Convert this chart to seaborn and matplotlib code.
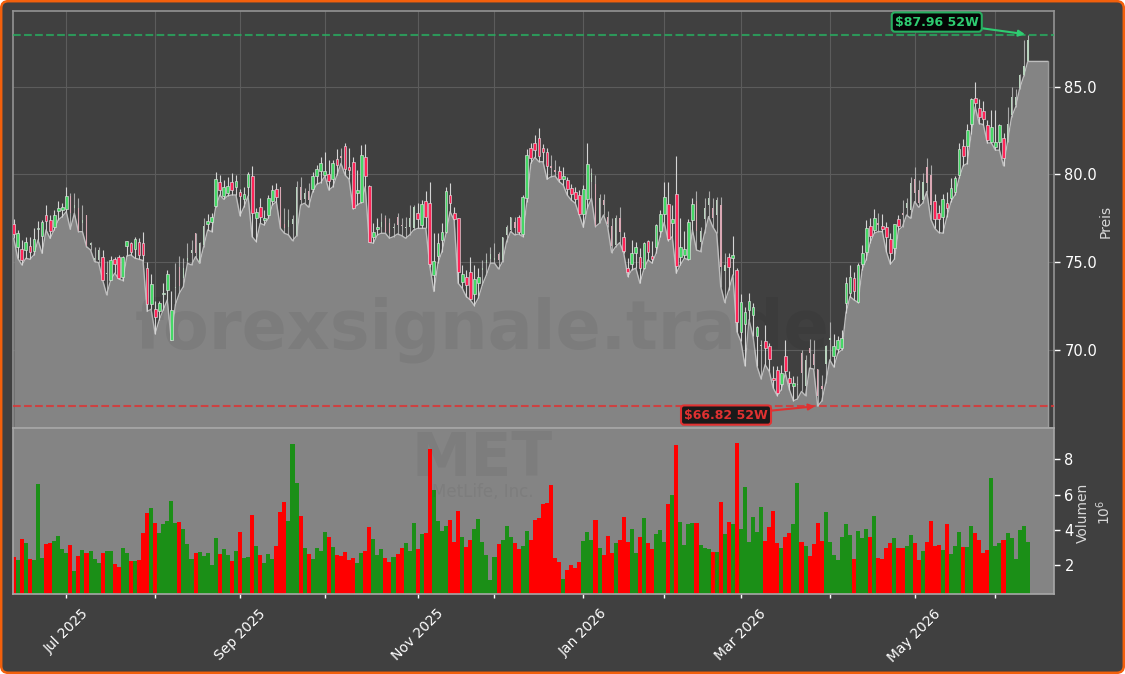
# MET candlestick chart with volume panel
import pandas as pd
import numpy as np
import matplotlib
matplotlib.use('Agg')
import matplotlib.pyplot as plt
from matplotlib.patches import FancyBboxPatch
from matplotlib.transforms import IdentityTransform
import seaborn as sns

holidays = ['2025-06-19', '2025-07-04', '2025-09-01', '2025-11-27', '2025-12-25',
            '2026-01-01', '2026-01-19', '2026-02-16', '2026-04-03', '2026-05-25']

opens = [
    77.16,75.85,75.74,75.70,75.91,75.66,76.88,76.50,77.67,77.41,
    77.03,77.94,77.97,78.05,78.77,78.11,78.07,77.22,77.67,75.99,
    75.13,75.13,75.30,74.32,74.02,75.17,75.30,74.19,75.91,76.08,
    75.74,76.16,76.08,74.66,72.63,72.35,72.25,73.22,73.43,70.57,
    73.52,74.76,74.09,75.10,75.55,76.65,75.04,75.99,77.20,77.27,
    78.22,79.55,78.79,78.92,79.55,79.30,78.98,78.58,79.26,79.89,
    77.50,78.16,77.41,77.69,78.51,79.15,79.30,77.18,77.03,77.18,
    76.56,79.30,78.58,79.08,79.15,79.93,80.21,79.98,80.00,79.72,
    80.86,81.04,81.61,80.44,80.68,78.96,78.45,80.97,79.34,76.42,
    76.92,77.03,77.50,77.22,76.93,77.60,77.10,76.93,77.03,76.93,
    77.79,77.12,78.47,78.36,74.30,75.38,76.27,76.71,78.81,77.79,
    77.50,73.85,74.19,74.43,73.17,73.81,74.57,74.95,75.17,75.14,
    75.46,75.14,76.56,76.84,77.31,77.56,76.61,78.64,81.48,81.76,
    82.05,81.48,81.27,80.48,80.25,80.17,79.76,79.70,79.21,78.98,
    78.81,77.77,78.62,79.57,79.45,77.26,78.54,77.56,77.07,75.99,
    77.50,76.44,74.66,74.89,75.51,75.29,74.66,76.20,75.36,75.89,
    76.78,77.73,78.30,77.22,78.90,75.29,75.40,75.19,77.39,78.49,
    76.18,77.47,78.26,78.07,77.69,78.24,74.53,75.29,75.23,74.55,
    71.06,71.48,72.26,71.99,70.78,70.21,70.51,70.21,68.41,68.85,
    68.09,69.64,68.41,67.96,68.00,69.83,67.94,70.12,69.78,68.92,
    67.94,69.23,70.59,69.68,70.06,70.12,72.67,73.24,74.08,72.73,
    74.91,75.57,77.09,76.84,77.24,77.05,76.99,76.31,75.80,77.45,
    77.79,78.07,77.98,79.72,79.11,78.54,80.44,79.97,78.47,77.79,
    77.56,78.39,78.64,79.02,79.96,81.60,81.62,82.89,84.37,83.80,
    83.61,82.84,81.85,81.57,81.85,82.10,81.85,83.37,83.93,84.94,85.64,86.43]

closes = [
    76.63,76.69,75.13,76.14,75.59,76.31,76.93,77.31,77.37,76.80,
    77.69,78.07,78.13,78.77,77.79,78.26,76.78,77.41,75.95,76.08,
    75.23,75.70,74.02,74.38,75.13,74.91,74.13,75.30,76.19,75.57,
    76.31,75.44,75.44,72.63,73.77,71.86,72.67,73.28,74.32,72.27,
    73.62,73.66,74.66,75.23,75.70,75.51,76.08,77.07,77.33,77.56,
    79.72,79.09,79.26,79.36,79.11,79.60,78.79,78.86,80.02,77.79,
    77.88,77.60,77.54,78.66,79.11,78.73,77.03,76.93,77.41,77.47,
    79.30,78.54,78.92,78.54,79.91,80.29,80.63,80.17,79.60,80.63,
    80.55,80.95,80.29,80.25,78.07,79.11,81.08,79.89,76.18,76.75,
    77.03,77.31,76.75,76.65,76.99,77.12,77.07,76.99,77.50,78.13,
    77.48,78.32,77.56,74.91,75.06,76.08,76.73,79.04,78.36,77.48,
    74.42,74.32,73.68,72.90,74.04,74.15,74.70,75.14,75.48,75.23,
    75.14,76.46,76.99,77.56,76.93,76.71,78.70,81.10,80.95,81.39,
    81.06,81.29,80.50,80.38,80.12,79.72,79.91,79.15,78.89,78.62,
    77.75,79.15,80.59,80.06,77.07,78.64,78.26,77.18,75.93,77.54,
    76.71,75.67,74.47,75.51,75.86,74.70,76.08,75.61,75.17,77.10,
    77.73,78.70,76.31,77.45,74.79,75.86,75.74,77.31,78.30,76.80,
    76.78,78.07,78.64,77.54,78.54,74.72,74.85,74.76,75.40,71.59,
    72.73,72.16,72.79,72.45,71.31,70.29,70.12,69.49,68.30,67.56,
    68.70,68.79,68.13,68.13,68.05,68.70,69.45,69.83,69.17,67.37,
    67.79,70.21,70.68,70.21,70.59,70.68,73.81,74.15,73.34,74.83,
    75.51,76.93,76.52,77.50,77.14,76.92,76.42,75.51,77.16,77.09,
    77.69,78.36,79.49,78.92,78.36,79.59,79.49,78.26,77.48,77.45,
    78.62,78.11,79.21,79.77,81.43,81.06,82.51,84.31,84.07,83.27,
    83.16,81.95,82.70,81.85,82.84,80.96,82.89,84.41,84.41,85.64,86.15,87.63]

highs = [
    77.44,76.84,76.27,76.42,76.46,76.97,77.35,77.40,78.24,77.69,
    77.97,78.50,78.35,79.30,78.92,78.92,78.64,78.26,77.69,76.18,
    75.85,75.85,75.70,75.08,75.36,75.32,75.40,75.36,76.21,76.18,
    76.42,76.36,76.71,75.04,74.32,72.82,72.82,73.81,74.57,73.37,
    74.98,75.36,75.23,76.08,76.27,76.65,76.14,77.50,77.73,77.79,
    80.15,79.96,79.68,79.83,80.06,79.96,79.15,79.26,80.15,80.49,
    78.11,78.64,77.97,78.83,79.40,79.49,79.30,78.07,78.01,77.69,
    79.62,79.87,79.21,79.49,80.15,80.53,80.97,81.29,80.82,80.82,
    81.42,81.48,81.80,81.48,81.01,80.25,81.67,81.71,79.40,77.22,
    77.50,77.79,77.69,77.50,77.22,77.82,77.50,77.60,78.26,78.26,
    78.36,78.54,79.08,79.59,76.65,76.65,77.22,79.30,79.49,78.17,
    77.54,74.85,74.57,75.29,74.85,74.66,75.14,75.55,75.89,76.08,
    75.61,76.46,77.12,77.60,77.60,77.69,78.83,81.42,81.80,82.24,
    82.62,81.73,81.48,81.10,80.82,80.48,80.40,79.83,79.45,79.30,
    79.11,79.40,81.80,80.34,79.97,78.89,78.89,77.94,77.50,77.69,
    78.17,76.75,75.23,76.27,76.18,75.80,76.18,76.27,76.23,77.18,
    77.98,79.59,79.59,78.26,81.06,77.50,76.80,77.47,78.64,79.06,
    76.99,78.64,79.08,78.64,78.73,78.70,75.55,75.51,76.52,74.66,
    73.20,72.48,73.28,72.71,71.39,70.59,71.44,70.40,69.11,69.07,
    69.17,70.59,68.79,68.51,68.51,70.02,69.74,70.63,70.59,68.92,
    68.60,70.31,71.63,70.93,70.78,71.12,74.19,74.83,74.47,74.95,
    75.99,77.41,77.50,78.01,77.82,77.75,77.31,76.65,77.18,77.69,
    78.54,78.68,79.83,80.44,79.68,80.10,80.95,80.53,78.89,78.26,
    78.89,79.02,79.77,79.91,81.76,82.04,82.85,84.37,85.26,84.28,
    84.18,83.08,83.65,83.69,82.85,82.36,83.84,84.98,84.88,85.70,87.67,87.96]

lows = [
    76.36,75.23,74.85,75.23,75.17,75.42,76.27,75.51,76.84,76.36,
    76.84,77.41,77.60,77.88,76.88,77.79,76.74,76.74,75.89,75.70,
    75.04,74.98,74.00,73.15,74.00,74.38,74.05,73.96,75.36,75.42,
    75.23,75.17,75.10,72.20,72.33,70.93,71.72,72.29,72.86,70.55,
    72.58,73.24,73.62,74.94,74.85,75.32,74.94,75.89,76.84,76.74,
    78.16,78.83,78.58,78.79,78.83,78.83,77.65,78.16,78.77,76.46,
    76.18,77.22,77.12,77.50,78.26,78.45,76.93,76.65,76.56,76.23,
    76.50,78.26,78.36,78.13,79.02,79.45,79.53,79.91,79.11,79.30,
    79.97,80.63,79.97,79.72,78.03,78.26,78.39,79.30,76.14,76.08,
    76.56,76.65,76.65,76.37,76.46,76.61,76.52,76.37,76.56,76.84,
    76.93,76.93,76.93,74.76,73.34,74.95,75.61,76.65,77.88,77.41,
    73.81,73.53,73.05,72.86,72.54,72.96,73.72,74.28,74.95,74.95,
    74.62,75.04,76.18,76.75,76.56,76.61,76.46,78.45,80.63,80.97,
    80.72,80.72,79.72,79.87,79.91,79.59,79.40,78.83,78.54,78.36,
    77.69,76.99,78.07,78.64,77.03,77.22,77.69,77.03,75.55,75.89,
    76.12,75.51,74.19,74.57,74.66,73.81,74.62,75.14,74.95,75.51,
    76.46,77.26,76.23,76.46,74.38,74.85,75.23,75.14,76.84,75.70,
    75.61,76.65,77.60,77.03,76.65,73.62,72.71,73.43,74.28,71.06,
    70.50,69.11,71.73,70.78,69.07,68.36,69.17,68.79,67.84,67.41,
    67.75,68.70,67.75,67.12,67.22,67.65,67.41,68.98,68.92,66.82,
    67.09,68.13,69.45,69.04,69.83,70.02,72.11,73.05,72.86,72.71,
    74.57,75.14,76.12,76.65,76.75,76.75,75.61,74.89,75.17,76.84,
    77.03,77.69,77.50,78.45,78.13,78.36,79.02,77.45,76.93,76.69,
    76.65,77.60,78.45,78.83,79.77,80.49,80.62,82.32,83.84,82.89,
    82.84,81.79,81.79,81.38,81.38,80.49,81.85,83.27,83.84,84.88,85.58,86.43]

volumes = [
    2.45,2.30,3.49,3.25,2.34,2.30,6.60,2.40,3.20,3.25,
    3.38,3.66,2.90,2.68,3.15,1.68,2.53,2.87,2.68,2.80,
    2.36,2.11,2.68,2.80,2.80,2.07,1.90,2.98,2.68,2.25,
    2.25,2.30,3.83,4.96,5.25,4.40,3.83,4.34,4.50,5.64,
    4.40,4.45,4.06,3.20,2.36,2.70,2.75,2.53,2.70,2.02,
    3.55,2.64,2.92,2.58,2.25,2.80,3.89,2.42,2.47,4.85,
    3.09,2.58,2.13,2.64,2.36,3.09,5.00,5.58,4.50,8.87,
    6.66,4.79,2.98,2.64,2.36,2.98,2.81,3.89,3.60,3.04,
    2.58,2.53,2.75,2.30,2.42,2.13,2.70,2.81,4.17,3.49,
    2.58,2.92,2.42,2.19,2.47,2.64,2.98,3.26,2.81,4.40,
    2.92,3.77,3.83,8.58,6.26,4.50,3.94,4.23,4.57,3.32,
    5.08,3.60,3.04,3.43,4.06,4.62,3.32,2.58,1.17,2.47,
    3.20,3.43,4.23,3.60,3.26,2.92,3.09,3.94,3.43,4.57,
    4.68,5.47,5.53,6.55,2.42,2.19,1.23,1.74,2.02,1.85,
    2.19,3.38,3.89,3.43,4.57,2.98,2.58,3.66,2.70,3.26,
    3.43,4.74,3.32,4.06,2.70,3.60,4.68,3.26,2.92,3.77,
    4.00,3.32,5.47,5.98,8.81,4.45,3.15,4.34,4.40,4.40,
    3.15,2.98,2.92,2.75,2.75,5.58,3.77,4.45,4.34,8.92,
    4.06,6.43,3.32,4.74,3.89,5.30,3.38,4.17,5.08,3.26,
    2.98,3.60,3.83,4.34,6.66,3.32,3.09,2.53,3.20,4.40,
    3.38,5.02,3.32,2.58,2.30,3.60,4.34,3.72,2.36,3.94,
    3.55,4.06,3.60,4.79,2.42,2.36,2.98,3.26,3.55,2.98,
    2.98,3.09,3.72,3.26,2.30,2.81,3.32,4.50,3.09,3.15,
    2.87,4.34,2.64,3.09,3.89,3.04,3.04,4.23,3.83,3.43,
    2.70,2.87,6.94,3.09,3.26,3.43,3.83,3.55,2.36,4.00,4.23,3.32]

# candles that look washed out in the original
faded_days = (list(range(14, 22)) + [23] + list(range(40, 48)) + list(range(66, 74)) + [81]
              + list(range(91, 100)) + list(range(116, 125)) + [133, 134] + list(range(143, 151))
              + list(range(169, 177)) + [185] + list(range(194, 203)) + [214]
              + list(range(220, 228)) + list(range(246, 252)))

year_high = 87.96
year_low = 66.82

BG = '#404040'
PANEL = '#848484'
UP_BODY = '#45d866'
DOWN_BODY = '#ff2458'
GREEN_LINE = '#27ae60'
RED_LINE = '#e03131'

sns.set_theme(style='dark', rc={'axes.facecolor': BG, 'figure.facecolor': 'white',
                                'text.color': 'white', 'font.family': 'DejaVu Sans'})

dates = pd.bdate_range('2025-06-11', periods=len(closes), freq='C', holidays=holidays)
df = pd.DataFrame({'day': np.arange(len(closes)), 'date': dates, 'open': opens, 'close': closes,
                   'high': highs, 'low': lows, 'volume': volumes})
df['side'] = np.where(df['close'] >= df['open'], 'up', 'down')
df['faded'] = df['day'].isin(faded_days)

fig = plt.figure(figsize=(11.25, 6.74), dpi=100)
fig.patches.append(FancyBboxPatch((1.2, 1.2), 1122.6, 671.6, boxstyle='round,pad=0,rounding_size=7',
                                  transform=IdentityTransform(), figure=fig,
                                  fc=BG, ec='#f2600c', lw=1.8, zorder=-5))

W, H = 1125, 674
ax = fig.add_axes([13 / W, 1 - 428 / H, 1041 / W, 417 / H])
ax_vol = fig.add_axes([13 / W, 1 - 594 / H, 1041 / W, 166 / H], sharex=ax)
for a in (ax, ax_vol):
    a.patch.set_alpha(0)
    a.yaxis.tick_right()
    a.yaxis.set_label_position('right')

floor = 65.57
x_end = 256.0

# month ticks
first_days = df.groupby(df['date'].dt.to_period('M'))['day'].min().iloc[1:]
month_names = [d.strftime('%b %Y') for d in df.loc[first_days.values, 'date']]
tick_labels = [n if i % 2 == 0 else '' for i, n in enumerate(month_names)]

# area under the lows
area_x = list(df['day']) + [x_end]
area_y = list(df['low']) + [lows[-1]]
ax.set_axisbelow(True)
ax.fill_between(area_x, area_y, floor, color=PANEL, lw=0, zorder=2)
sns.lineplot(x=area_x, y=area_y, color='#bdbdbd', lw=1, ax=ax, errorbar=None, zorder=3)
ax.plot([x_end, x_end], [lows[-1], floor], color='#9c9c9c', lw=1, zorder=3)

ax.text(0.451, 0.235, 'forexsignale.trade', transform=ax.transAxes, fontsize=48, fontweight='bold',
        color='black', alpha=0.06, ha='center', va='center', zorder=4)

# candles
normal = df[~df['faded']]
faded = df[df['faded']]
ax.vlines(faded['day'], faded['low'], faded['high'], color='#c4c4c4', lw=0.8, alpha=0.8, zorder=5)
ax.vlines(normal['day'], normal['low'], normal['high'], color='#d4d4d4', lw=0.8, zorder=5)
for part, width, edge, lw, up_col, down_col in [(faded, 0.4, 'none', 0, '#b9d4be', '#dba8b4'),
                                               (normal, 0.7, '#e2e2e2', 0.45, UP_BODY, DOWN_BODY)]:
    colors = np.where(part['side'] == 'up', up_col, down_col)
    ax.bar(part['day'], (part['close'] - part['open']).abs().clip(lower=0.06),
           bottom=part[['open', 'close']].min(axis=1), width=width, color=colors,
           edgecolor=edge, linewidth=lw, zorder=6)

# 52 week lines
ax.axhline(year_high, color=GREEN_LINE, ls='--', lw=1.5, alpha=0.8, zorder=4)
ax.axhline(year_low, color=RED_LINE, ls='--', lw=1.5, alpha=0.8, zorder=4)
ax.annotate(f'${year_high:.2f} 52W', xy=(df['high'].idxmax(), year_high), xytext=(-65.5, 9.0),
            textcoords='offset points', ha='center', va='center', fontsize=9, fontweight='bold',
            color='#2ecc71', zorder=9,
            bbox=dict(boxstyle='round,pad=0.25', fc='#050505', ec=GREEN_LINE, lw=1.5),
            arrowprops=dict(arrowstyle='-|>', color='#2ecc71', lw=1.5, shrinkA=0, shrinkB=2))
ax.annotate(f'${year_low:.2f} 52W', xy=(df['low'].idxmin(), year_low), xytext=(-66, -6.5),
            textcoords='offset points', ha='center', va='center', fontsize=9, fontweight='bold',
            color='#e03131', zorder=9,
            bbox=dict(boxstyle='round,pad=0.25', fc='#1a1a1a', ec=RED_LINE, lw=1.5),
            arrowprops=dict(arrowstyle='-|>', color='#e03131', lw=1.5, shrinkA=0, shrinkB=2))

ax.set_ylim(floor, 89.3)
ax.set_yticks([70, 75, 80, 85])
ax.set_yticklabels(['70.0', '75.0', '80.0', '85.0'])
ax.set_ylabel('Preis', color='#d8d8d8', fontsize=10, va='center')
ax.yaxis.set_label_coords(1.05, 0.495)
ax.tick_params(axis='y', colors='white', labelsize=10.5, length=4, width=1)
ax.tick_params(axis='x', bottom=False, labelbottom=False)
for s in ax.spines.values():
    s.set_color('#939393')
    s.set_linewidth(1.2)

# volume panel
ax_vol.patch.set_alpha(1)
ax_vol.set_facecolor(PANEL)
sns.barplot(data=df, x='day', y='volume', hue='side', palette={'up': '#1b8f17', 'down': '#ff0000'},
            native_scale=True, dodge=False, width=1, saturation=1, legend=False, linewidth=0, ax=ax_vol)
ax_vol.text(0.451, 0.81, 'MET', transform=ax_vol.transAxes, fontsize=43, fontweight='bold',
            color='black', alpha=0.05, ha='center', va='center', zorder=1)
ax_vol.text(0.451, 0.612, 'MetLife, Inc.', transform=ax_vol.transAxes, fontsize=12,
            color='black', alpha=0.05, ha='center', va='center', zorder=1)
ax_vol.set_ylim(0.38, 9.77)
ax_vol.set_yticks([2, 4, 6, 8])
ax_vol.set_xlabel('')
ax_vol.set_ylabel('Volumen\n$10^{6}$', color='#d8d8d8', fontsize=10, linespacing=1.3, va='center')
ax_vol.yaxis.set_label_coords(1.0385, 0.49)
ax_vol.tick_params(axis='y', colors='white', labelsize=10.5, length=4, width=1)
for side, s in ax_vol.spines.items():
    s.set_color('#a8a8a8')
    s.set_linewidth(1.2)

ax_vol.set_xticks(first_days.values)
ax_vol.set_xticklabels(tick_labels, rotation=45, ha='center', rotation_mode='default',
                       color='#e8e8e8', fontsize=10)
ax_vol.tick_params(axis='x', bottom=True, labelbottom=True, length=3, width=1, colors='white', pad=6)
ax.tick_params(axis='x', bottom=False, labelbottom=False)
ax.grid(True, color='#5c5c5c', lw=0.8)
ax_vol.grid(False)
ax.set_xlim(-0.19, 257.5)

fig.savefig('out.png', dpi=100, facecolor='white')
